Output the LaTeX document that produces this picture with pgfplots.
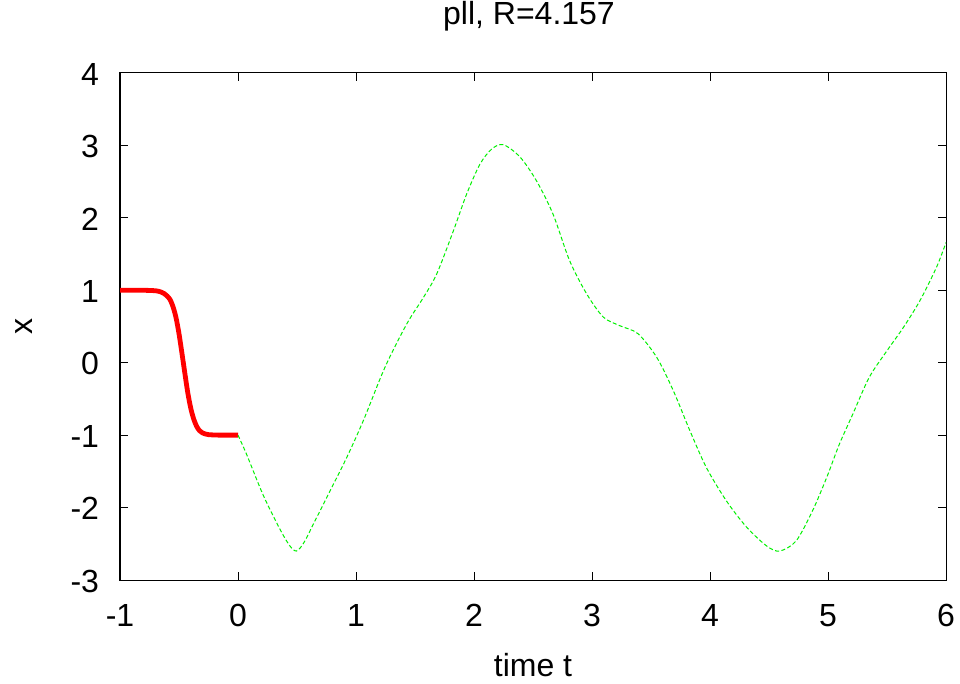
\documentclass[border=0pt]{standalone}
\usepackage{fontspec}
\setmainfont{Liberation Sans}
\usepackage{pgfplots}
\pgfplotsset{compat=1.18}
\begin{document}
\begin{tikzpicture}
\begin{axis}[
  name=ax,
  scale only axis,
  width=413pt, height=253.5pt,
  xmin=-1, xmax=6, ymin=-3, ymax=4,
  xtick={-1,0,1,2,3,4,5,6},
  ytick={-3,-2,-1,0,1,2,3,4},
  tick align=inside,
  major tick length=4pt,
  axis line style={line width=0.5pt, black},
  every tick/.style={black, line width=0.5pt},
  /pgf/number format/assume math mode=true,
  font=\fontsize{16pt}{19pt}\selectfont,
  xticklabel style={anchor=base, inner sep=0pt, yshift=-23pt, font=\fontsize{16pt}{19pt}\selectfont},
  yticklabel style={anchor=east, inner sep=0pt, xshift=-10.3pt, yshift=-0.5pt, font=\fontsize{16pt}{19pt}\selectfont},
  title={pll, R=4.157},
  title style={at={(axis description cs:0.5,1)}, anchor=base, inner sep=0pt, yshift=18pt, xshift=-2pt, font=\fontsize{16pt}{19pt}\selectfont},
  xlabel={time t},
  xlabel style={at={(axis description cs:0.5,0)}, anchor=base, inner sep=0pt, yshift=-48pt, font=\fontsize{16pt}{19pt}\selectfont},
  ylabel={x},
  ylabel style={at={(axis description cs:0,0.5)}, anchor=base, inner sep=0pt, yshift=43.5pt, font=\fontsize{16pt}{19pt}\selectfont},
  clip=true,
]
\addplot[red, line width=2.4pt, smooth] coordinates {
(-1,1) (-0.9,1) (-0.8,0.9995) (-0.75,0.998) (-0.7,0.9935) (-0.675,0.987) (-0.65,0.975) (-0.625,0.954) (-0.6,0.92) (-0.575,0.87) (-0.55,0.77) (-0.525,0.62) (-0.5,0.40) (-0.475,0.13) (-0.45,-0.15) (-0.425,-0.42) (-0.4,-0.63) (-0.375,-0.78) (-0.35,-0.88) (-0.325,-0.94) (-0.3,-0.97) (-0.275,-0.985) (-0.25,-0.993) (-0.2,-0.998) (-0.15,-1) (-0.1,-1) (0,-1)
};
\addplot[color={rgb,255:red,0;green,240;blue,0}, line width=0.5pt, dash pattern=on 2pt off 1.2pt, smooth] coordinates {
(0,-1) (0.074,-1.27) (0.214,-1.83) (0.356,-2.30) (0.44,-2.53) (0.497,-2.60) (0.56,-2.48) (0.638,-2.23) (0.78,-1.77) (0.921,-1.31) (1.062,-0.80) (1.245,-0.065) (1.43,0.535) (1.571,0.90) (1.684,1.225) (1.825,1.82) (1.938,2.33) (2.05,2.74) (2.15,2.95) (2.248,3.01) (2.39,2.84) (2.53,2.51) (2.67,2.05) (2.81,1.41) (2.955,0.95) (3.096,0.63) (3.237,0.51) (3.39,0.40) (3.55,0.07) (3.69,-0.39) (3.83,-0.94) (3.97,-1.45) (4.14,-1.91) (4.31,-2.27) (4.48,-2.53) (4.59,-2.60) (4.73,-2.46) (4.87,-2.04) (4.99,-1.58) (5.095,-1.13) (5.21,-0.71) (5.35,-0.20) (5.50,0.166) (5.64,0.49) (5.78,0.86) (5.92,1.32) (6.0,1.66)
};
\end{axis}
\path ([xshift=-60pt,yshift=-51.5pt]ax.south west) rectangle ([xshift=7pt,yshift=36.5pt]ax.north east);
\end{tikzpicture}
\end{document}
